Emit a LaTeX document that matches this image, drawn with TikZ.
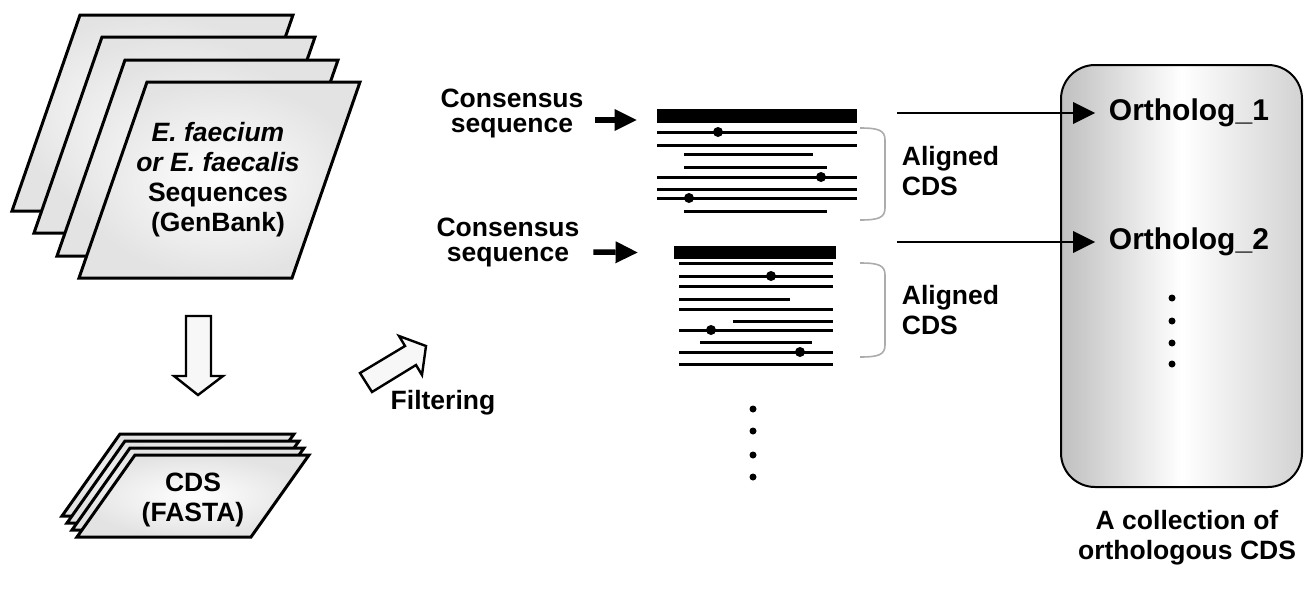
\documentclass[tikz,border=0pt]{standalone}
\usepackage{fontspec}
\setmainfont{Liberation Sans}
\usepackage{xcolor}
\usetikzlibrary{arrows.meta,calc}

\begin{document}
\begin{tikzpicture}[x=0.5pt,y=0.5pt,yscale=-1,xscale=1,
  every node/.style={font=\bfseries\fontsize{13.25}{15}\selectfont},
  sheet/.style={draw, line width=1.5pt, line join=miter, inner color=white, outer color=gray!22},
  blockarrow/.style={draw, line width=1.2pt, fill=gray!6, line join=miter},
  seqline/.style={line width=1.5pt},
  bracket/.style={draw=gray!65, line width=0.8pt},
  consarrow/.style={line width=2.75pt, -{Triangle[length=11pt,width=11pt,line width=0pt]}},
  ortharrow/.style={line width=1pt, -{Triangle[length=11pt,width=11pt,line width=0pt]}, shorten >=6pt},
  barbox/.style={fill=black, inner sep=0pt, minimum width=100pt, minimum height=7pt},
  orthbox/.style={draw, line width=1pt, rounded corners=17pt, left color=gray!50, right color=gray!35, middle color=white}]
\useasboundingbox (0,0) rectangle (1305,595);

%Shape: Parallelogram stack (GenBank)
\draw [sheet] (80,15) -- (293,15) -- (225,211) -- (12,211) -- cycle ;
\draw [sheet] (102,37) -- (315,37) -- (247,233) -- (34,233) -- cycle ;
\draw [sheet] (125,60) -- (338,60) -- (270,256) -- (57,256) -- cycle ;
\draw [sheet] (147,82) -- (360,82) -- (292,278) -- (79,278) -- cycle ;
%Shape: Down Arrow
\draw [blockarrow] (186,316) -- (211,316) -- (211,376) -- (223,376) -- (198,395) -- (174,376) -- (186,376) -- cycle ;
%Shape: Parallelogram stack (FASTA)
\draw [sheet] (120,434) -- (294,434) -- (236,516) -- (62,516) -- cycle ;
\draw [sheet] (125,441) -- (299,441) -- (241,523) -- (67,523) -- cycle ;
\draw [sheet] (130,448) -- (304,448) -- (246,530) -- (72,530) -- cycle ;
\draw [sheet] (135,455) -- (309,455) -- (251,537) -- (77,537) -- cycle ;
%Shape: Right Arrow (filtering)
\draw [blockarrow] (360,373) -- (405,346) -- (399,336) -- (426,346) -- (422,375) -- (416,365) -- (372,392) -- cycle ;

%Shape: Rectangle (consensus 1)
\draw (757,116) node (bar1) [barbox] {};
%Straight Lines (aligned 1)
\draw [seqline] (657,132) -- (857,132) ;
\draw [seqline] (657,145) -- (857,145) ;
\draw [seqline] (684,154) -- (813,154) ;
\draw [seqline] (684,167) -- (827,167) ;
\draw [seqline] (657,177) -- (857,177) ;
\draw [seqline] (657,189) -- (857,189) ;
\draw [seqline] (657,198) -- (857,198) ;
\draw [seqline] (684,211) -- (827,211) ;
\fill (718,132) circle (5) ;
\fill (821,177) circle (5) ;
\fill (689,198) circle (5) ;
%Shape: Bracket 1
\draw [bracket] (860,128) .. controls (878,128) and (885,130) .. (885,140) -- (885,208) .. controls (885,218) and (878,220) .. (860,220) ;

%Shape: Rectangle (consensus 2)
\draw (755,252.5) node (bar2) [barbox, minimum width=81pt, minimum height=6.5pt] {};
%Straight Lines (aligned 2)
\draw [seqline] (679,263) -- (833,263) ;
\draw [seqline] (679,276) -- (833,276) ;
\draw [seqline] (679,286) -- (833,286) ;
\draw [seqline] (679,299) -- (790,299) ;
\draw [seqline] (679,309) -- (833,309) ;
\draw [seqline] (733,321) -- (833,321) ;
\draw [seqline] (679,330) -- (833,330) ;
\draw [seqline] (700,342) -- (812,342) ;
\draw [seqline] (679,352) -- (833,352) ;
\draw [seqline] (679,364) -- (833,364) ;
\fill (771,276) circle (5) ;
\fill (711,330) circle (5) ;
\fill (800,352) circle (5) ;
%Shape: Bracket 2
\draw [bracket] (860,263) .. controls (878,263) and (885,265) .. (885,275) -- (885,345) .. controls (885,355) and (878,357) .. (860,357) ;

%Shape: Dots
\fill (753,409) circle (3.5) ;
\fill (753,431) circle (3.5) ;
\fill (753,455) circle (3.5) ;
\fill (753,477) circle (3.5) ;

%Shape: Rounded Rectangle
\draw [orthbox] (1061,65) rectangle (1302,487) ;
\fill (1172,298) circle (3.5) ;
\fill (1172,321) circle (3.5) ;
\fill (1172,343) circle (3.5) ;
\fill (1172,364) circle (3.5) ;

% Text Node
\draw (218,180) node (seqtxt) [inner sep=0.75pt] [align=center] {\textit{E. faecium}\\\textit{or E. faecalis}\\Sequences\\(GenBank)};
% Text Node
\draw (193,500) node (cdstxt) [inner sep=0.75pt] [align=center] {CDS\\(FASTA)};
% Text Node
\draw (443,403) node (filt) [inner sep=0.75pt] [align=center] {Filtering};
% Text Node
\draw (512,113) node (cons1) [inner sep=0.75pt] [align=center, font=\bfseries\fontsize{13.25}{12.5}\selectfont] {Consensus\\sequence};
% Text Node
\draw (508,242) node (cons2) [inner sep=0.75pt] [align=center, font=\bfseries\fontsize{13.25}{12.5}\selectfont] {Consensus\\sequence};
% Text Node
\draw (900,171) node (algn1) [anchor=west][inner sep=0.75pt] [align=left] {Aligned\\CDS};
% Text Node
\draw (900,310) node (algn2) [anchor=west][inner sep=0.75pt] [align=left] {Aligned\\CDS};
% Text Node
\draw (1107,113) node (orth1) [anchor=west][inner sep=0.75pt] [font=\bfseries\fontsize{15}{18}\selectfont] {Ortholog\_1};
% Text Node
\draw (1107,242) node (orth2) [anchor=west][inner sep=0.75pt] [font=\bfseries\fontsize{15}{18}\selectfont] {Ortholog\_2};
% Text Node
\draw (1187,538) node (coll) [inner sep=0.75pt] [align=center] {A collection of\\orthologous CDS};

%Straight Lines (consensus arrows)
\draw [consarrow] ($(cons1.east)+(10,7)$) -- ($(bar1.west)+(-20,4)$) ;
\draw [consarrow] ($(cons2.east)+(12,10)$) -- ($(bar2.west)+(-36,0)$) ;
%Straight Lines (ortholog arrows)
\coordinate (o1) at (897,113) ;
\coordinate (o2) at (897,242) ;
\draw [ortharrow] (o1) -- (o1 -| orth1.west) ;
\draw [ortharrow] (o2) -- (o2 -| orth2.west) ;

\end{tikzpicture}
\end{document}
